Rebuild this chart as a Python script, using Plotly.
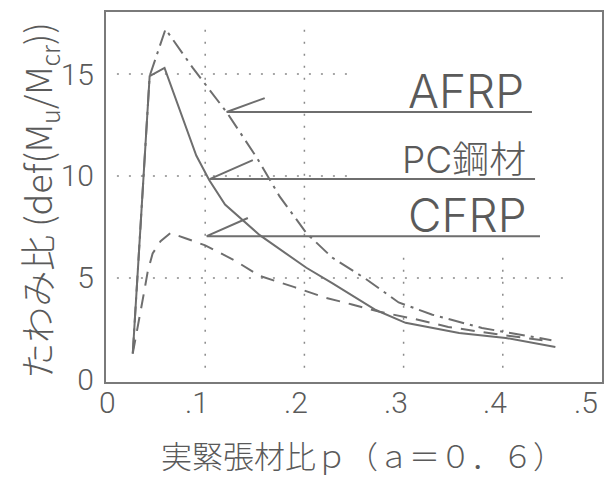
import plotly.graph_objects as go

# ---- data ----
pc_p = [0.027, 0.044, 0.059, 0.074, 0.091, 0.104, 0.12, 0.155, 0.202, 0.228, 0.272, 0.302, 0.356, 0.403, 0.453]
pc_v = [1.3, 14.9, 15.3, 13.3, 11.0, 9.8, 8.6, 7.1, 5.5, 4.75, 3.43, 2.8, 2.3, 2.06, 1.62]

afrp_p = [0.027, 0.044, 0.060, 0.0875, 0.122, 0.152, 0.175, 0.202, 0.228, 0.262, 0.295, 0.329, 0.379, 0.449]
afrp_v = [1.3, 14.9, 17.2, 15.3, 13.1, 10.9, 9.0, 7.2, 6.0, 4.95, 3.8, 3.2, 2.55, 1.95]

cfrp_p = [0.027, 0.033, 0.038, 0.042, 0.047, 0.055, 0.065, 0.08, 0.10, 0.13, 0.155, 0.19, 0.22, 0.248, 0.275, 0.31, 0.345, 0.40, 0.44]
cfrp_v = [1.3, 2.8, 4.2, 5.3, 6.2, 6.8, 7.2, 6.95, 6.6, 5.85, 5.1, 4.55, 4.05, 3.7, 3.35, 3.0, 2.6, 2.2, 1.95]

# label underline / leader lines
label_names = ["AFRP", "PC鋼材", "CFRP"]
label_y = [13.14, 9.85, 7.05]
label_x0 = [0.1216, 0.1045, 0.1015]
label_x1 = [0.4294, 0.4325, 0.4375]
leader_x = [0.160, 0.148, 0.143]
leader_y = [13.82, 10.78, 7.94]
label_text_x = [0.4234, 0.4254, 0.4264]

x_ticks = [0, 0.1, 0.2, 0.3, 0.4, 0.5]
x_ticktext = ["0", ".1", ".2", ".3", ".4", ".5"]
y_ticks = [0, 5, 10, 15]
y_ticktext = ["0", "5", "10", "15"]

# dotted grid segments (partial, as in the original)
vgrid_x = [0.1, 0.2, 0.3, 0.4]
vgrid_top = [17.5, 17.5, 6.2, 6.2]
vgrid_bottom = 0.6
hgrid_y = [5, 10, 15]
hgrid_x1 = [0.47, 0.245, 0.245]
hgrid_x0 = 0.011

LINE = "#6e6e6e"
TEXT = "#5a5a5a"
JP = "Noto Sans CJK JP, Noto Sans, sans-serif"
LAB = "Inter, Noto Sans CJK JP, sans-serif"
NUM = "Liberation Sans Narrow, Roboto, sans-serif"

fig = go.Figure()

fig.add_trace(go.Scatter(x=afrp_p, y=afrp_v, mode="lines",
                         line=dict(color=LINE, width=2, dash="16px,6px,3px,6px"),
                         showlegend=False, hoverinfo="skip"))
fig.add_trace(go.Scatter(x=pc_p, y=pc_v, mode="lines",
                         line=dict(color=LINE, width=2),
                         showlegend=False, hoverinfo="skip"))
fig.add_trace(go.Scatter(x=cfrp_p, y=cfrp_v, mode="lines",
                         line=dict(color=LINE, width=2, dash="14px,9px"),
                         showlegend=False, hoverinfo="skip"))

for i in range(len(label_names)):
    fig.add_trace(go.Scatter(x=[leader_x[i], label_x0[i], label_x1[i]],
                             y=[leader_y[i], label_y[i], label_y[i]],
                             mode="lines", line=dict(color=LINE, width=2),
                             showlegend=False, hoverinfo="skip"))
    is_kanji = "鋼" in label_names[i]
    fig.add_annotation(x=label_text_x[i], y=label_y[i], xref="x", yref="y",
                       text=label_names[i], showarrow=False,
                       xanchor="right", yanchor="bottom",
                       yshift=-5 if is_kanji else -9,
                       font=dict(family=LAB, size=37 if is_kanji else 46,
                                 color=TEXT, weight=300))

# x tick labels placed along the x axis
for t, s in zip(x_ticks, x_ticktext):
    fig.add_annotation(x=t, y=0, xref="x", yref="paper", text=s, showarrow=False,
                       xanchor="right", yanchor="top", yshift=-1,
                       xshift=(-2 if t == x_ticks[-1] else (12 if t == 0 else 6)),
                       font=dict(family=NUM, size=30, color=TEXT, weight=300))

shapes = []
for gx, top in zip(vgrid_x, vgrid_top):
    shapes.append(dict(type="line", xref="x", yref="y", x0=gx, x1=gx, y0=vgrid_bottom, y1=top,
                       line=dict(color="#8a8a8a", width=1.5, dash="2px,10px"), layer="below"))
for gy, x1 in zip(hgrid_y, hgrid_x1):
    shapes.append(dict(type="line", xref="x", yref="y", x0=hgrid_x0, x1=x1, y0=gy, y1=gy,
                       line=dict(color="#8a8a8a", width=1.5, dash="2px,10px"), layer="below"))

fig.add_annotation(x=-0.135, y=0.49, xref="paper", yref="paper",
                   text="たわみ比 (def(M<sub>u</sub>/M<sub>cr</sub>))", textangle=-90,
                   showarrow=False, xanchor="center", yanchor="middle",
                   font=dict(family=JP, size=36, color=TEXT, weight=300))
fig.add_annotation(x=0.518, y=-0.197, xref="paper", yref="paper",
                   text="実緊張材比ｐ（ａ＝０．６）",
                   showarrow=False, xanchor="center", yanchor="middle",
                   font=dict(family=JP, size=31, color=TEXT, weight=300))

fig.update_layout(
    width=609, height=484,
    margin=dict(l=106, r=7, t=12, b=102, autoexpand=False),
    paper_bgcolor="white", plot_bgcolor="white",
    shapes=shapes,
    xaxis=dict(range=[0, 0.5], showgrid=False, zeroline=False, automargin=False,
               showline=True, mirror=True, linecolor="#7a7a7a", linewidth=2,
               showticklabels=False, ticks=""),
    yaxis=dict(range=[-0.1, 18.04], showgrid=False, zeroline=False, automargin=False,
               showline=True, mirror=True, linecolor="#7a7a7a", linewidth=2,
               tickvals=y_ticks, ticktext=y_ticktext, ticks="", ticklen=0,
               tickfont=dict(family=NUM, size=30, color=TEXT, weight=300),
               ticklabelstandoff=4),
)

fig.write_html("out.html", config={"displayModeBar": False},
               post_script="document.body.style.margin='0';")
